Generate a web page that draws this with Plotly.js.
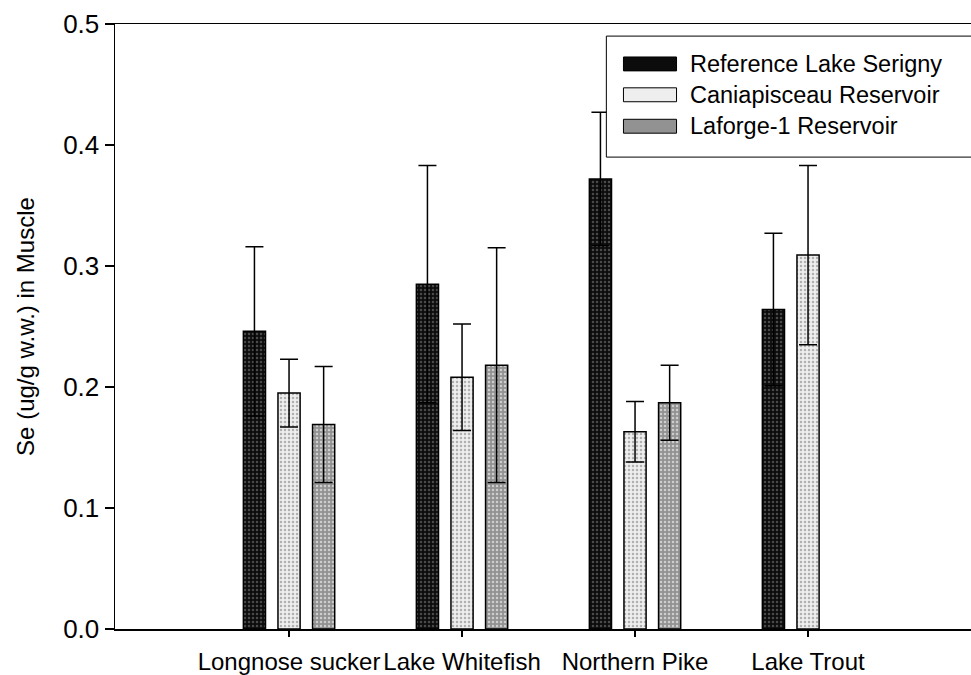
<!DOCTYPE html>
<html>
<head>
<meta charset="utf-8">
<script src="https://cdn.plot.ly/plotly-3.0.1.min.js"></script>
<style>
  html, body { margin: 0; padding: 0; background: #fff; }
  #chart { width: 971px; height: 675px; }
</style>
</head>
<body>
<div id="chart"></div>
<script>
// Fish species (x categories)
const species = ["Longnose sucker", "Lake Whitefish", "Northern Pike", "Lake Trout"];

// Mean Se concentration in muscle (ug/g wet weight) and error (SD)
const serigny = [0.246, 0.285, 0.372, 0.264];
const serignyErr = [0.070, 0.098, 0.055, 0.063];

const caniapiscau = [0.195, 0.208, 0.163, 0.309];
const caniapiscauErr = [0.028, 0.044, 0.025, 0.074];

const laforge = [0.169, 0.218, 0.187, null];
const laforgeErr = [0.048, 0.097, 0.031, null];

const seriesNames = ["Reference Lake Serigny", "Caniapisceau Reservoir", "Laforge-1 Reservoir"];
const yTicks = [0.0, 0.1, 0.2, 0.3, 0.4, 0.5];

const FONT = "Liberation Sans, Arial, sans-serif";

// Stippled fills for the three sites
const fills = [
  { bg: "#0c0c0c", fg: "#4a4a4a" },
  { bg: "#eeeeee", fg: "#b0b0b0" },
  { bg: "#929292", fg: "#cfcfcf" }
];

function barTrace(name, y, err, fill) {
  return {
    type: "bar",
    name: name,
    x: species,
    y: y,
    showlegend: false,
    marker: {
      color: fill.bg,
      line: { color: "#000", width: 1.5 },
      pattern: { shape: ".", bgcolor: fill.bg, fgcolor: fill.fg, size: 4, solidity: 0.3 }
    },
    error_y: {
      type: "data",
      array: err,
      symmetric: true,
      visible: true,
      color: "#000",
      thickness: 1.5,
      width: 9
    },
    hoverinfo: "x+y+name"
  };
}

const data = [
  barTrace(seriesNames[0], serigny, serignyErr, fills[0]),
  barTrace(seriesNames[1], caniapiscau, caniapiscauErr, fills[1]),
  barTrace(seriesNames[2], laforge, laforgeErr, fills[2])
];

// Legend box drawn in paper coordinates (top right of the plot)
const legX0 = 0.574, legX1 = 1.02, legY0 = 0.780, legY1 = 0.980;
const rowY = [0.934, 0.883, 0.831];
const swX0 = 0.594, swX1 = 0.656, swH = 0.0115;
const shapes = [{
  type: "rect", xref: "paper", yref: "paper",
  x0: legX0, x1: legX1, y0: legY0, y1: legY1,
  fillcolor: "#fff", line: { color: "#000", width: 1 }, layer: "above"
}];
const annotations = [];
seriesNames.forEach((nm, i) => {
  shapes.push({
    type: "rect", xref: "paper", yref: "paper",
    x0: swX0, x1: swX1, y0: rowY[i] - swH, y1: rowY[i] + swH,
    fillcolor: fills[i].bg, line: { color: "#000", width: 1 }, layer: "above"
  });
  annotations.push({
    xref: "paper", yref: "paper", x: 0.669, y: rowY[i],
    xanchor: "left", yanchor: "middle", showarrow: false,
    text: nm, font: { family: FONT, size: 23.5, color: "#000" }
  });
});

const layout = {
  width: 971,
  height: 675,
  margin: { l: 115, r: 0, t: 24, b: 46 },
  paper_bgcolor: "#fff",
  plot_bgcolor: "#fff",
  barmode: "group",
  bargap: 0.40,
  bargroupgap: 0.36,
  font: { family: FONT, size: 24, color: "#000" },
  xaxis: {
    type: "category",
    range: [-1.006, 3.942],
    showline: true,
    mirror: true,
    linecolor: "#000",
    linewidth: 1.5,
    ticks: "outside",
    ticklen: 6,
    tickwidth: 1.5,
    tickcolor: "#000",
    ticklabelstandoff: 5,
    showgrid: false,
    zeroline: false,
    tickfont: { family: FONT, size: 24, color: "#000" }
  },
  yaxis: {
    range: [0, 0.5],
    tickvals: yTicks,
    tickformat: ".1f",
    showline: true,
    linecolor: "#000",
    linewidth: 1.5,
    ticks: "outside",
    ticklen: 9,
    tickwidth: 1.5,
    tickcolor: "#000",
    showgrid: false,
    zeroline: false,
    tickfont: { family: FONT, size: 26, color: "#000" },
    title: {
      text: "Se (ug/g w.w.) in Muscle",
      font: { family: FONT, size: 24, color: "#000" },
      standoff: 21
    }
  },
  shapes: shapes,
  annotations: annotations
};

Plotly.newPlot("chart", data, layout, { displayModeBar: false, staticPlot: true });
</script>
</body>
</html>
